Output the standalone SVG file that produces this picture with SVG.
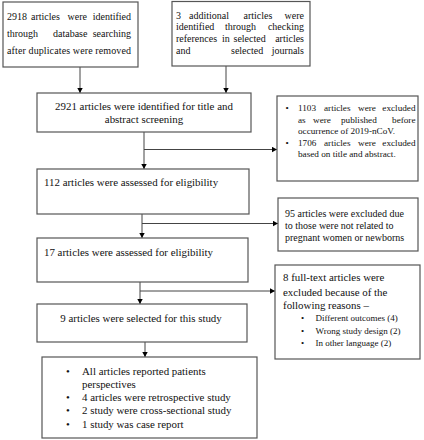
<svg xmlns="http://www.w3.org/2000/svg" width="424" height="440" viewBox="0 0 424 440">
<style>
.box{fill:#fff;stroke:#555;stroke-width:1.2}
.t{font-family:"Liberation Serif","Times New Roman",serif;fill:#111}
.f11{font-size:10.9px}
.f10{font-size:10px}
.f9{font-size:9.2px}
.f8{font-size:9px}
.c{text-anchor:middle}
.e{text-anchor:end}
.ln{stroke:#444;stroke-width:1;fill:none}
</style>
<defs>
<marker id="ah" markerUnits="userSpaceOnUse" markerWidth="6" markerHeight="6" refX="5" refY="3" orient="auto">
<path d="M0,0.3 L5,3 L0,5.7 Z" fill="#000"/>
</marker>
</defs>
<rect width="424" height="440" fill="#fff"/>
<g id="connectors">
<path class="ln" d="M80,67 V93" marker-end="url(#ah)"/>
<path class="ln" d="M226,66 V93" marker-end="url(#ah)"/>
<path class="ln" d="M144,132 V169" marker-end="url(#ah)"/>
<path class="ln" d="M144,149.5 H277" marker-end="url(#ah)"/>
<path class="ln" d="M142,214 V238" marker-end="url(#ah)"/>
<path class="ln" d="M142,223.5 H278" marker-end="url(#ah)"/>
<path class="ln" d="M140,282 V304" marker-end="url(#ah)"/>
<path class="ln" d="M140,291 H275" marker-end="url(#ah)"/>
<path class="ln" d="M145,342 V357" marker-end="url(#ah)"/>
</g>
<g id="n1">
<rect class="box" x="3" y="2" width="135" height="65"/>
<text class="t f10" y="19.5"><tspan x="7">2918</tspan><tspan x="31">articles</tspan><tspan x="67.5">were</tspan><tspan x="131" class="e">identified</tspan></text>
<text class="t f10" y="36.5"><tspan x="7">through</tspan><tspan x="53">database</tspan><tspan x="131" class="e">searching</tspan></text>
<text class="t f10" y="53.5" x="7" textLength="124" lengthAdjust="spacing">after duplicates were removed</text>
</g>
<g id="n2">
<rect class="box" x="172" y="1.5" width="138" height="64.5"/>
<text class="t f10" y="18.5"><tspan x="176">3</tspan><tspan x="189">additional</tspan><tspan x="243.5">articles</tspan><tspan x="304" class="e">were</tspan></text>
<text class="t f10" y="30"><tspan x="176">identified</tspan><tspan x="225">through</tspan><tspan x="304" class="e">checking</tspan></text>
<text class="t f10" y="41.5"><tspan x="176">references</tspan><tspan x="222">in</tspan><tspan x="233.5">selected</tspan><tspan x="304" class="e">articles</tspan></text>
<text class="t f10" y="54"><tspan x="176">and</tspan><tspan x="231">selected</tspan><tspan x="304" class="e">journals</tspan></text>
</g>
<g id="n3">
<rect class="box" x="37" y="93" width="214" height="39"/>
<text class="t f11 c" x="144" y="109.5">2921 articles were identified for title and</text>
<text class="t f11 c" x="144" y="123">abstract screening</text>
</g>
<g id="nA">
<rect class="box" x="277" y="96" width="141" height="85"/>
<text class="t f9" x="285.5" y="111">•</text>
<text class="t f9" y="111"><tspan x="298">1103</tspan><tspan x="324">articles</tspan><tspan x="358">were</tspan><tspan x="415.5" class="e">excluded</tspan></text>
<text class="t f9" y="122.5"><tspan x="298">as</tspan><tspan x="313">were</tspan><tspan x="341">published</tspan><tspan x="415.5" class="e">before</tspan></text>
<text class="t f9" x="298" y="134">occurrence of 2019-nCoV.</text>
<text class="t f9" x="285.5" y="145.5">•</text>
<text class="t f9" y="145.5"><tspan x="298">1706</tspan><tspan x="324">articles</tspan><tspan x="358">were</tspan><tspan x="415.5" class="e">excluded</tspan></text>
<text class="t f9" x="298" y="157">based on title and abstract.</text>
</g>
<g id="n4">
<rect class="box" x="37" y="169" width="212" height="45"/>
<text class="t f11" x="44" y="185.5">112 articles were assessed for eligibility</text>
</g>
<g id="nB">
<rect class="box" x="278" y="198" width="140" height="53"/>
<text class="t f10" x="285" y="216.5">95 articles were excluded due</text>
<text class="t f10" x="285" y="228.5">to those were not related to</text>
<text class="t f10" x="285" y="240.5">pregnant women or newborns</text>
</g>
<g id="n5">
<rect class="box" x="37" y="238" width="211" height="44"/>
<text class="t f11" x="44" y="255.5">17 articles were assessed for eligibility</text>
</g>
<g id="nC">
<rect class="box" x="275" y="265" width="145" height="94"/>
<text class="t f11" x="283" y="281">8 full-text articles were</text>
<text class="t f11" x="283" y="295.5">excluded because of the</text>
<text class="t f11" x="283" y="308.5">following reasons –</text>
<text class="t f8" x="301" y="321">•</text>
<text class="t f8" x="315.5" y="321">Different outcomes (4)</text>
<text class="t f8" x="301" y="333.5">•</text>
<text class="t f8" x="315.5" y="333.5">Wrong study design (2)</text>
<text class="t f8" x="301" y="346">•</text>
<text class="t f8" x="315.5" y="346">In other language (2)</text>
</g>
<g id="n6">
<rect class="box" x="37" y="304" width="210" height="38"/>
<text class="t f11 c" x="141" y="321.5">9 articles were selected for this study</text>
</g>
<g id="n7">
<rect class="box" x="42" y="357" width="215" height="81"/>
<text class="t f11" x="66" y="374.5">•</text>
<text class="t f11" x="82" y="374.5">All articles reported patients</text>
<text class="t f11" x="82" y="388">perspectives</text>
<text class="t f11" x="66" y="401">•</text>
<text class="t f11" x="82" y="401">4 articles were retrospective study</text>
<text class="t f11" x="66" y="413.5">•</text>
<text class="t f11" x="82" y="413.5">2 study were cross-sectional study</text>
<text class="t f11" x="66" y="428">•</text>
<text class="t f11" x="82" y="428">1 study was case report</text>
</g>
</svg>
